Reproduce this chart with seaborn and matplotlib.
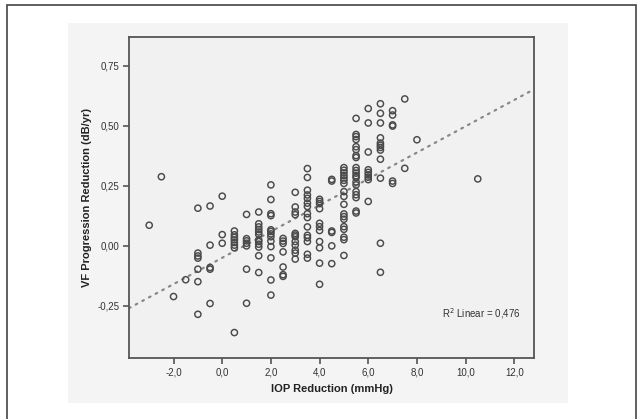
import matplotlib
matplotlib.use("Agg")
import matplotlib.pyplot as plt
from matplotlib.patches import Rectangle
import seaborn as sns
import pandas as pd

# IOP reduction (mmHg) per point, grouped by column
iop_reduction = (
    [-3.0] + [-2.5] + [-2.0] + [-1.5]
    + [-1.0] * 7 + [-0.5] * 5 + [0.0] * 3 + [0.5] * 8 + [1.0] * 7
    + [1.5] * 12 + [2.0] * 13 + [2.5] * 7 + [3.0] * 12 + [3.5] * 15
    + [4.0] * 11 + [4.5] * 6 + [5.0] * 18 + [5.5] * 20 + [6.0] * 9
    + [6.5] * 12 + [7.0] * 6 + [7.5] * 2 + [8.0] + [10.5]
)

# VF progression reduction (dB/yr), same order
vf_reduction = [
    0.086,
    0.288,
    -0.211,
    -0.141,
    0.157, -0.03, -0.042, -0.051, -0.097, -0.149, -0.285,
    0.166, 0.003, -0.09, -0.097, -0.240,
    0.207, 0.047, 0.011,
    0.062, 0.046, 0.035, 0.025, 0.014, 0.003, -0.008, -0.361,
    0.131, 0.030, 0.021, 0.011, 0.0, -0.097, -0.239,
    0.141, 0.092, 0.079, 0.068, 0.058, 0.048, 0.025, 0.018, 0.007, -0.005, -0.041, -0.111,
    0.254, 0.193, 0.134, 0.126, 0.067, 0.060, 0.050, 0.038, 0.020, -0.003, -0.050, -0.142, -0.205,
    0.031, 0.020, 0.010, -0.025, -0.088, -0.120, -0.127,
    0.223, 0.162, 0.141, 0.130, 0.052, 0.045, 0.038, 0.018, 0.003, -0.018, -0.030, -0.055,
    0.322, 0.285, 0.232, 0.212, 0.198, 0.178, 0.164, 0.134, 0.118, 0.079, 0.044, 0.034, 0.018, -0.035, -0.051,
    0.194, 0.185, 0.176, 0.155, 0.094, 0.080, 0.064, 0.018, -0.008, -0.072, -0.160,
    0.277, 0.270, 0.062, 0.056, 0.0, -0.074,
    0.326, 0.315, 0.304, 0.293, 0.283, 0.273, 0.260, 0.226, 0.206, 0.173, 0.133, 0.122, 0.111, 0.080, 0.069, 0.036, 0.026, -0.040,
    0.531, 0.464, 0.455, 0.443, 0.413, 0.401, 0.376, 0.368, 0.326, 0.314, 0.303, 0.292, 0.284, 0.266, 0.254, 0.226, 0.213, 0.201, 0.145, 0.137,
    0.572, 0.512, 0.391, 0.317, 0.306, 0.296, 0.286, 0.276, 0.185,
    0.592, 0.552, 0.512, 0.450, 0.428, 0.419, 0.410, 0.399, 0.361, 0.282, 0.011, -0.110,
    0.563, 0.545, 0.504, 0.499, 0.270, 0.260,
    0.612, 0.323,
    0.442,
    0.279,
]

x_ticks = [-2, 0, 2, 4, 6, 8, 10, 12]
x_tick_labels = ["-2,0", "0,0", "2,0", "4,0", "6,0", "8,0", "10,0", "12,0"]
y_ticks = [-0.25, 0.0, 0.25, 0.5, 0.75]
y_tick_labels = ["-0,25", "0,00", "0,25", "0,50", "0,75"]
r2_label = "R$^2$ Linear = 0,476"

df = pd.DataFrame({"iop": iop_reduction, "vf": vf_reduction})

sns.set_theme(style="white")
plt.rcParams["font.family"] = ["Liberation Sans", "DejaVu Sans"]

fig = plt.figure(figsize=(6.43, 4.19), dpi=100)
fig.patch.set_facecolor("white")
# chart region (light gray) and outer border
fig.patches.append(Rectangle((68 / 643, 1 - 403 / 419), 500 / 643, 380 / 419,
                             transform=fig.transFigure, facecolor="#f4f4f4",
                             edgecolor="none", zorder=-2))
fig.patches.append(Rectangle((7 / 643, -0.05), 629 / 643, 1.05 - 5 / 419,
                             transform=fig.transFigure, facecolor="none",
                             edgecolor="#444444", linewidth=1.2, zorder=-1))

ax = fig.add_axes([129 / 643, 1 - 358 / 419, 405 / 643, 321 / 419])
ax.set_facecolor("#f1f1f1")
ax.set_xlim(-3.83, 12.81)
ax.set_ylim(-0.467, 0.870)

sns.scatterplot(data=df, x="iop", y="vf", ax=ax, marker="o", s=20,
                facecolor="none", edgecolor="#4a4a4a", linewidth=1.05, zorder=3)
sns.regplot(data=df, x="iop", y="vf", ax=ax, scatter=False, ci=None,
            truncate=False,
            line_kws=dict(color="#888888", linewidth=1.6,
                          linestyle=(0, (0.8, 2.6)), dash_capstyle="round"))
ax.set_xlim(-3.83, 12.81)
ax.set_ylim(-0.467, 0.870)

for side in ["top", "right", "left", "bottom"]:
    ax.spines[side].set_visible(True)
    ax.spines[side].set_color("#555555")
    ax.spines[side].set_linewidth(1.3)

ax.set_xticks(x_ticks)
ax.set_xticklabels(x_tick_labels)
ax.set_yticks(y_ticks)
ax.set_yticklabels(y_tick_labels)
ax.tick_params(axis="both", which="both", direction="out", length=4, width=1.2,
               color="#555555", labelsize=7, labelcolor="#333333",
               left=True, bottom=True)
ax.tick_params(axis="x", pad=2.5)
ax.tick_params(axis="y", pad=3)

ax.set_xlabel("IOP Reduction (mmHg)", fontsize=8, fontweight="bold",
              color="#222222", labelpad=5)
ax.set_ylabel("VF Progression Reduction (dB/yr)", fontsize=8, fontweight="bold",
              color="#222222", labelpad=4)

ax.text(9.05, -0.283, r2_label, fontsize=7, color="#333333", va="center", ha="left")

fig.savefig("out.png", dpi=100, facecolor=fig.get_facecolor())
